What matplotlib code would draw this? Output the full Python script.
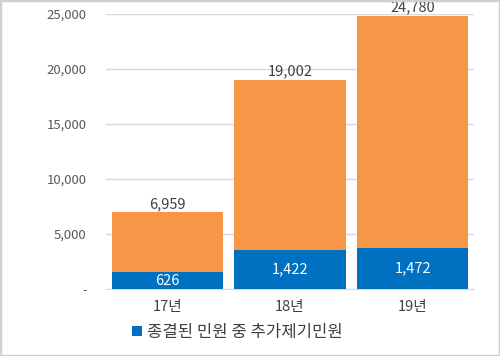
import matplotlib
matplotlib.use("Agg")
import matplotlib.pyplot as plt
from matplotlib.patches import Rectangle

plt.rcParams['font.family'] = ['Noto Sans CJK KR', 'DejaVu Sans']

categories = ['17년', '18년', '19년']
totals = [6959, 19002, 24780]
blue_heights = [1550, 3550, 3730]
blue_labels = ['626', '1,422', '1,472']
legend_label = '종결된 민원 중 추가제기민원'
yticks = [0, 5000, 10000, 15000, 20000, 25000]
ytick_labels = ['-', '5,000', '10,000', '15,000', '20,000', '25,000']

orange = '#F79646'
blue = '#0070C0'

fig = plt.figure(figsize=(5.0, 3.56), dpi=100)
ax = fig.add_axes([0.212, 0.188, 0.736, 0.773])
x = range(len(categories))
ax.bar(x, totals, width=0.91, color=orange, zorder=2)
bb = ax.bar(x, blue_heights, width=0.91, color=blue, zorder=3, label=legend_label)

for i, t in enumerate(totals):
    ax.text(i, t + 150, f'{t:,}', ha='center', va='bottom', fontsize=10.5, color='#404040', zorder=4)
for i, (h, lab) in enumerate(zip(blue_heights, blue_labels)):
    ax.text(i, h / 2, lab, ha='center', va='center', fontsize=10.5, color='white', zorder=4)

ax.set_xlim(-0.5, 2.5)
ax.set_ylim(0, 25000)
ax.set_yticks(yticks)
ax.set_yticklabels(ytick_labels, fontsize=9.5, color='#595959')
ax.set_xticks(list(x))
ax.set_xticklabels(categories, fontsize=10.5, color='#404040')
ax.tick_params(axis='both', length=0, pad=14)
ax.tick_params(axis='x', pad=8)
ax.yaxis.grid(True, color='#d9d9d9', linewidth=1, zorder=0)
for s in ['top', 'right', 'left']:
    ax.spines[s].set_visible(False)
ax.spines['bottom'].set_color('#d9d9d9')

fig.legend(handles=[bb], labels=[legend_label], loc='center', bbox_to_anchor=(0.475, 0.066),
           frameon=False, fontsize=12, handlelength=0.6, handleheight=0.6, handletextpad=0.3,
           labelcolor='#404040')

fig.patches.append(Rectangle((0, 0), 1, 1, transform=fig.transFigure, fill=False,
                             edgecolor='#d0d0d0', linewidth=2.5))
fig.savefig('out.png', dpi=100)
